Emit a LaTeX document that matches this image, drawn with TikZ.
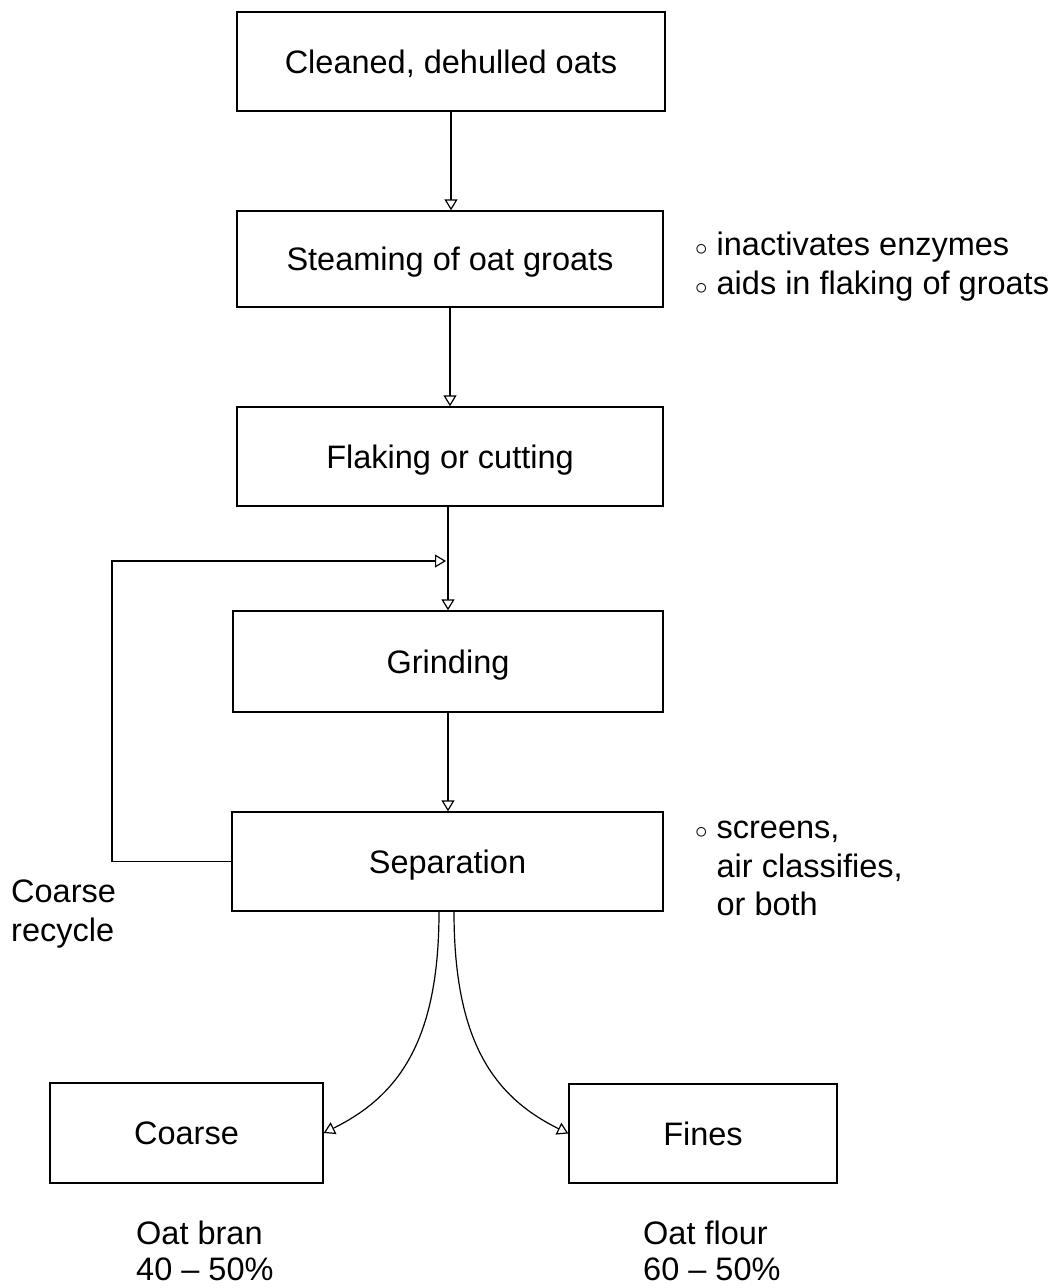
\documentclass[tikz,border=0pt]{standalone}
\usepackage{fontspec}
\setmainfont{Liberation Sans}
\usetikzlibrary{arrows.meta}
\begin{document}
\begin{tikzpicture}[x=1pt,y=-1pt,
  every node/.style={font=\fontsize{32.5}{38.5}\selectfont},
  stepbox/.style={draw,line width=1.4pt,rectangle,inner sep=0pt,text depth=0pt,text height=23pt},
  txt/.style={align=left,inner sep=0pt,anchor=north west},
  arr/.style={line width=1.2pt,-{Triangle[open,length=11pt,width=13pt]}}]
\useasboundingbox (0,0) rectangle (1055,1288);
\node[stepbox,minimum width=428,minimum height=99] (b1) at (451,61.5) {Cleaned, dehulled oats};
\node[stepbox,minimum width=426,minimum height=96] (b2) at (450,259) {Steaming of oat groats};
\node[stepbox,minimum width=426,minimum height=99] (b3) at (450,456.5) {Flaking or cutting};
\node[stepbox,minimum width=430,minimum height=101] (b4) at (448,661.5) {Grinding};
\node[stepbox,minimum width=431,minimum height=99] (b5) at (447.5,861.5) {Separation};
\node[stepbox,minimum width=273,minimum height=100] (b6) at (186.5,1133) {Coarse};
\node[stepbox,minimum width=268,minimum height=99] (b7) at (703,1133.5) {Fines};

\node[txt] (n1) at (695,232) {$\circ$ inactivates enzymes\\$\circ$ aids in flaking of groats};
\node[txt] (n2) at (695,821) {$\circ$ screens,\\\hphantom{$\circ$ }air classifies,\\\hphantom{$\circ$ }or both};
\node[txt] (n3) at (11,880) {Coarse\\recycle};
\node[txt,font=\fontsize{32.5}{36}\selectfont] (n4) at (136,1221) {Oat bran\\40 -- 50\%};
\node[txt,font=\fontsize{32.5}{36}\selectfont] (n5) at (643,1221) {Oat flour\\60 -- 50\%};

\draw[arr] (b1.south) -- (b1.south |- b2.north);
\draw[arr] (b2.south) -- (b2.south |- b3.north);
\draw[arr] (b4.north |- b3.south) -- (b4.north);
\draw[arr] (b4.south) -- (b4.south |- b5.north);
\coordinate (rj) at (446,561);
\draw[arr] (b5.west) -| (112,561) -- (rj);
\draw[arr] ([xshift=-8.5]b5.south) .. controls +(0,129) and +(75,-37) .. (b6.east);
\draw[arr] ([xshift=6.5]b5.south) .. controls +(0,129) and +(-75,-37) .. (b7.west);
\end{tikzpicture}
\end{document}
